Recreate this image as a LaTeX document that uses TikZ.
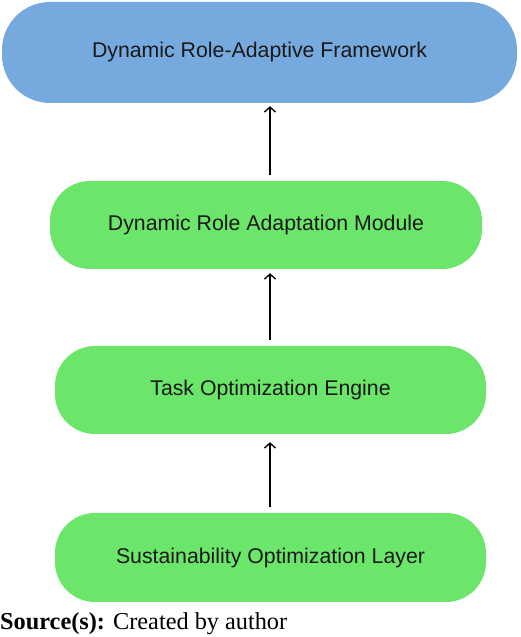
\documentclass[tikz,border=0pt]{standalone}
\usepackage{fontspec}
\setmainfont{Liberation Serif}
\newfontfamily\boxfont{Liberation Sans}
\usetikzlibrary{arrows.meta}

\definecolor{layerblue}{RGB}{118,170,222}
\definecolor{layergreen}{RGB}{108,230,106}

\tikzset{
    layerbox/.style={draw=none, minimum height=88pt, rounded corners=40pt,
        font=\boxfont\fontsize{21.3}{24}\selectfont, text=black!90},
    uparrow/.style={-{Straight Barb[length=5pt, width=11pt]}, line width=1.3pt, black}
}

\begin{document}
\begin{tikzpicture}[x=1pt, y=1pt]
    \useasboundingbox (0,0) rectangle (520,637);

    % Layers
    \node[layerbox, fill=layerblue, minimum width=515pt, minimum height=101pt, rounded corners=48pt] (frame) at (259.5,584.5) {Dynamic Role-Adaptive Framework};
    \node[layerbox, fill=layergreen, minimum width=432pt] (adapt) at (266,412) {Dynamic Role Adaptation Module};
    \node[layerbox, fill=layergreen, minimum width=431pt] (task) at (270.5,247) {Task Optimization Engine};
    \node[layerbox, fill=layergreen, minimum width=431pt, minimum height=89pt] (sust) at (270.5,79.5) {Sustainability Optimization Layer};

    % Arrows
    \coordinate (ax) at (270,0);
    \draw[uparrow, shorten <=6pt, shorten >=3pt] (adapt.north -| ax) -- (frame.south -| ax);
    \draw[uparrow, shorten <=6pt, shorten >=4pt] (task.north -| ax) -- (adapt.south -| ax);
    \draw[uparrow, shorten <=6pt, shorten >=8pt] (sust.north -| ax) -- (task.south -| ax);

    % Caption
    \node[anchor=base west, inner sep=0pt, font=\fontsize{24.3}{27}\selectfont] (src) at (0,8) {\textbf{Source(s):} Created by author};
\end{tikzpicture}
\end{document}
